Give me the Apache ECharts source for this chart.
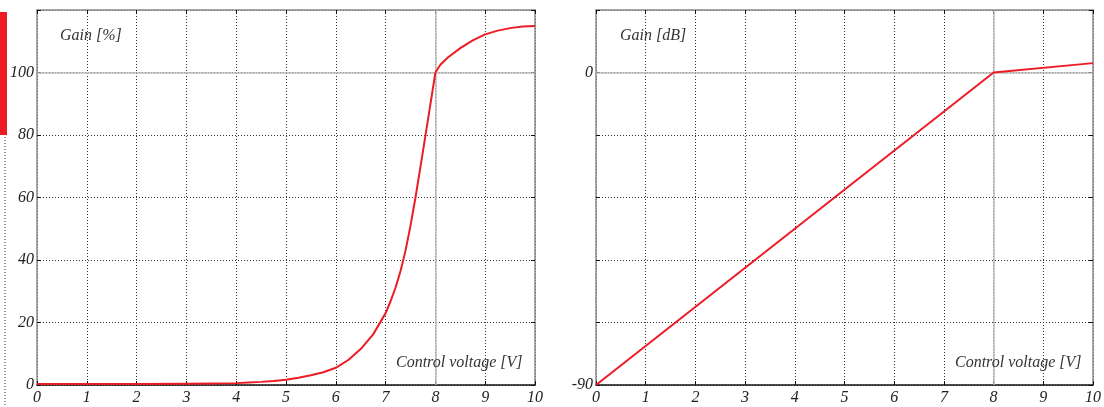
<!DOCTYPE html>
<html>
<head>
<meta charset="utf-8">
<script src="https://cdn.jsdelivr.net/npm/echarts@6/dist/echarts.min.js"></script>
<style>
html,body{margin:0;padding:0;background:#fff;}
#chart{width:1104px;height:407px;}
</style>
</head>
<body>
<div id="chart"></div>
<script>
// ---- data ----
const xTicks = [0,1,2,3,4,5,6,7,8,9,10];
// rising part (0..8 V)
const riseVolt = [0, 1, 2, 3, 3.5, 4, 4.25, 4.5, 4.75, 5, 5.25, 5.5, 5.75, 6, 6.25, 6.5, 6.75, 7, 7.1, 7.2, 7.3, 7.4, 7.5, 7.6, 7.7, 7.8, 7.9, 8];
const riseGain = [0.3, 0.3, 0.3, 0.4, 0.5, 0.6, 0.8, 1.0, 1.3, 1.7, 2.3, 3.1, 4.1, 5.5, 8.0, 11.5, 16.2, 23, 26.8, 31.2, 36.5, 43, 51, 60, 69.8, 79.8, 89.9, 100];
// saturating part (8..10 V)
const satVolt = [8, 8.1, 8.25, 8.5, 8.75, 9, 9.25, 9.5, 9.75, 10];
const satGain = [100, 102.5, 104.8, 107.8, 110.3, 112.2, 113.4, 114.2, 114.7, 114.9];
const dbVolt = [0, 8, 10];
const dbGain = [-90, 0, 2.7];
const pctTickLabels = ['0','20','40','60','80','100'];
const dbTickLabels = {'-90':'-90','0':'0'};

const RED = '#ec1c24';
const FONT = 'Liberation Serif';
const labelStyle = {fontFamily: FONT, fontStyle: 'italic', fontSize: 16, color: '#222'};

function xAxes(gi){
  return [{
    type:'value', gridIndex:gi, min:0, max:10, interval:1,
    axisLine:{show:true, onZero:false, lineStyle:{color:'#111', width:1.5}},
    axisTick:{show:true, inside:true, length:4, lineStyle:{color:'#111'}},
    axisLabel:Object.assign({margin:5}, labelStyle),
    splitLine:{show:true, lineStyle:{color:'#333', type:[1,2], width:1}}
  },{
    type:'value', gridIndex:gi, min:0, max:10, interval:1, position:'top',
    axisLine:{show:true, onZero:false, lineStyle:{color:'#888', width:1.5}},
    axisTick:{show:true, inside:true, length:4, lineStyle:{color:'#111'}},
    axisLabel:{show:false}, splitLine:{show:false}
  }];
}
function yAxes(gi, min, max, interval, fmt){
  return [{
    type:'value', gridIndex:gi, min:min, max:max, interval:interval,
    axisLine:{show:true, onZero:false, lineStyle:{color:'#888', width:1.5}},
    axisTick:{show:true, inside:true, length:4, lineStyle:{color:'#111'}},
    axisLabel:Object.assign({margin:3, formatter:fmt}, labelStyle),
    splitLine:{show:true, lineStyle:{color:'#333', type:[1,2], width:1}}
  },{
    type:'value', gridIndex:gi, min:min, max:max, interval:interval, position:'right',
    axisLine:{show:true, onZero:false, lineStyle:{color:'#888', width:1.5}},
    axisTick:{show:true, inside:true, length:4, lineStyle:{color:'#111'}},
    axisLabel:{show:false}, splitLine:{show:false}
  }];
}

const chart = echarts.init(document.getElementById('chart'), null, {renderer:'canvas'});
const titleStyle = {fontFamily: FONT, fontStyle:'italic', fontWeight:'normal', fontSize:16, color:'#333'};
const redLine = {color:RED, width:2, join:'round'};
const option = {
  animation:false,
  backgroundColor:'#fff',
  title:[
    {text:'Gain [%]', left:55, top:23, textStyle:titleStyle},
    {text:'Control voltage [V]', left:391, top:350, textStyle:titleStyle},
    {text:'Gain [dB]', left:615, top:23, textStyle:titleStyle},
    {text:'Control voltage [V]', left:950, top:350, textStyle:titleStyle}
  ],
  grid:[
    {left:37, right:569, top:10, bottom:22},
    {left:596, right:10, top:10, bottom:22}
  ],
  xAxis: xAxes(0).concat(xAxes(1)),
  yAxis: yAxes(0, 0, 120, 20, v => pctTickLabels.indexOf(String(v)) >= 0 ? String(v) : '')
    .concat(yAxes(1, -90, 18, 18, v => dbTickLabels[String(v)] || '')),
  graphic:[
    {type:'rect', left:0, top:12, shape:{width:7, height:123}, style:{fill:RED}, silent:true},
    {type:'line', shape:{x1:5, y1:137, x2:5, y2:407}, style:{stroke:'#333', lineWidth:1, lineDash:[1,2]}, silent:true}
  ],
  series:[
    {
      type:'line', xAxisIndex:0, yAxisIndex:0,
      data: riseVolt.map((v,i)=>[v, riseGain[i]]),
      smooth:false, showSymbol:false, lineStyle:redLine, z:5,
      markLine:{silent:true, symbol:'none', label:{show:false},
        lineStyle:{color:'#bbb', type:'solid', width:1.5},
        data:[{xAxis:8},{yAxis:100}], z:2}
    },
    {
      type:'line', xAxisIndex:0, yAxisIndex:0,
      data: satVolt.map((v,i)=>[v, satGain[i]]),
      smooth:false, showSymbol:false, lineStyle:redLine, z:5
    },
    {
      type:'line', xAxisIndex:2, yAxisIndex:2,
      data: dbVolt.map((v,i)=>[v, dbGain[i]]),
      showSymbol:false, lineStyle:redLine, z:5,
      markLine:{silent:true, symbol:'none', label:{show:false},
        lineStyle:{color:'#bbb', type:'solid', width:1.5},
        data:[{xAxis:8},{yAxis:0}], z:2}
    }
  ]
};
chart.setOption(option);
</script>
</body>
</html>
